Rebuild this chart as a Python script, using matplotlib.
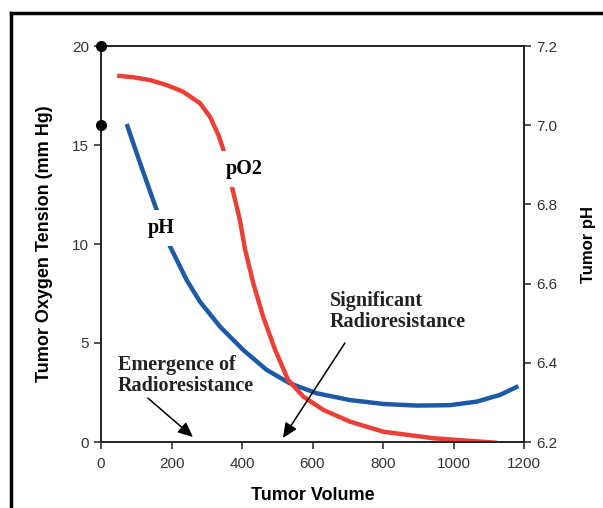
import matplotlib
matplotlib.use("Agg")
import matplotlib.pyplot as plt
from matplotlib.lines import Line2D

# pO2 curve (left axis, mm Hg)
po2_volume = [46, 92, 139, 186, 233, 281, 309, 333, 347, 371, 394, 409, 432, 460, 494,
              531, 574, 631, 706, 801, 943, 1123]
po2_value = [18.50, 18.42, 18.28, 18.03, 17.69, 17.11, 16.43, 15.51, 14.78, 12.93, 11.21,
             9.70, 8.02, 6.33, 4.65, 3.13, 2.29, 1.62, 1.03, 0.52, 0.19, -0.04]

# pH curve (right axis)
ph_volume = [73, 111, 153, 191, 243, 281, 338, 404, 470, 536, 612, 706, 801, 896, 990,
             1066, 1132, 1184]
ph_value = [7.003, 6.904, 6.798, 6.703, 6.609, 6.554, 6.491, 6.432, 6.382, 6.348, 6.323,
            6.306, 6.296, 6.292, 6.293, 6.302, 6.319, 6.341]

x_ticks = [0, 200, 400, 600, 800, 1000, 1200]
y_ticks = [0, 5, 10, 15, 20]
ph_ticks = [6.2, 6.4, 6.6, 6.8, 7.0, 7.2]
dots_y = [20, 16]

red = "#ec3f36"
blue = "#1c5aa8"
tick_col = "#333333"
serif = "Liberation Serif"
sans = "Liberation Sans"

fig = plt.figure(figsize=(6.03, 5.08), dpi=100)
ax = fig.add_axes([101 / 603, 1 - 442 / 508, 423 / 603, 396 / 508])
ax2 = ax.twinx()

ax.plot(po2_volume, po2_value, color=red, lw=3.2, solid_capstyle="butt",
        solid_joinstyle="round", zorder=2)
ax2.plot(ph_volume, ph_value, color=blue, lw=3.2, solid_capstyle="butt",
         solid_joinstyle="round", zorder=2)

ax.set_xlim(0, 1200)
ax.set_ylim(0, 20)
ax2.set_ylim(6.2, 7.2)
ax.set_xticks(x_ticks)
ax.set_yticks(y_ticks)
ax2.set_yticks(ph_ticks)
ax2.set_yticklabels([f"{v:.1f}" for v in ph_ticks])

for a in (ax, ax2):
    for s in a.spines.values():
        s.set_linewidth(1.2)
        s.set_color("#222222")
    a.tick_params(direction="out", length=5, width=1.1, colors="#222222",
                  labelcolor=tick_col, labelsize=11)
    for lab in a.get_xticklabels() + a.get_yticklabels():
        lab.set_family(sans)
ax.tick_params(axis="x", pad=6)

ax.set_xlabel("Tumor Volume", fontsize=13, fontweight="bold", family=sans, labelpad=11)
ax.set_ylabel("Tumor Oxygen Tension (mm Hg)", fontsize=13, fontweight="bold", family=sans, labelpad=14)
ax2.set_ylabel("Tumor pH", fontsize=12, fontweight="bold", family=sans, labelpad=17)

# black dots on the left axis
ax.plot([0] * len(dots_y), dots_y, "o", color="black", ms=7, clip_on=False, zorder=5)

# curve labels
box = dict(facecolor="white", edgecolor="none", pad=6)
ax.text(406, 13.8, "pO2", fontsize=14.5, fontweight="bold", family=serif,
        ha="center", va="center", bbox=box, zorder=4)
ax.text(170, 10.8, "pH", fontsize=14.5, fontweight="bold", family=serif,
        ha="center", va="center", bbox=box, zorder=4)
ax.set_zorder(ax2.get_zorder() + 1)
ax.patch.set_visible(False)

# annotations
arrow = dict(arrowstyle="-|>,head_length=0.9,head_width=0.4", color="black", lw=1.1,
             shrinkA=0, shrinkB=0)
ax.annotate("", xy=(261, 0.25), xytext=(133, 2.22), arrowprops=arrow)
ax.text(48, 3.35, "Emergence of\nRadioresistance", fontsize=14.5, fontweight="bold",
        family=serif, ha="left", va="center", color="#222222", linespacing=1.05)
ax.annotate("", xy=(516, 0.2), xytext=(692, 5.0), arrowprops=arrow)
ax.text(650, 6.6, "Significant\nRadioresistance", fontsize=14.5, fontweight="bold",
        family=serif, ha="left", va="center", color="#222222", linespacing=1.05)

# outer frame (left and top edges visible)
fig.add_artist(Line2D([11 / 603, 11 / 603], [0, 1 - 13 / 508], color="black", lw=2.5))
fig.add_artist(Line2D([11 / 603, 1], [1 - 13 / 508, 1 - 13 / 508], color="black", lw=2.5))

fig.savefig("out.png", dpi=100)
